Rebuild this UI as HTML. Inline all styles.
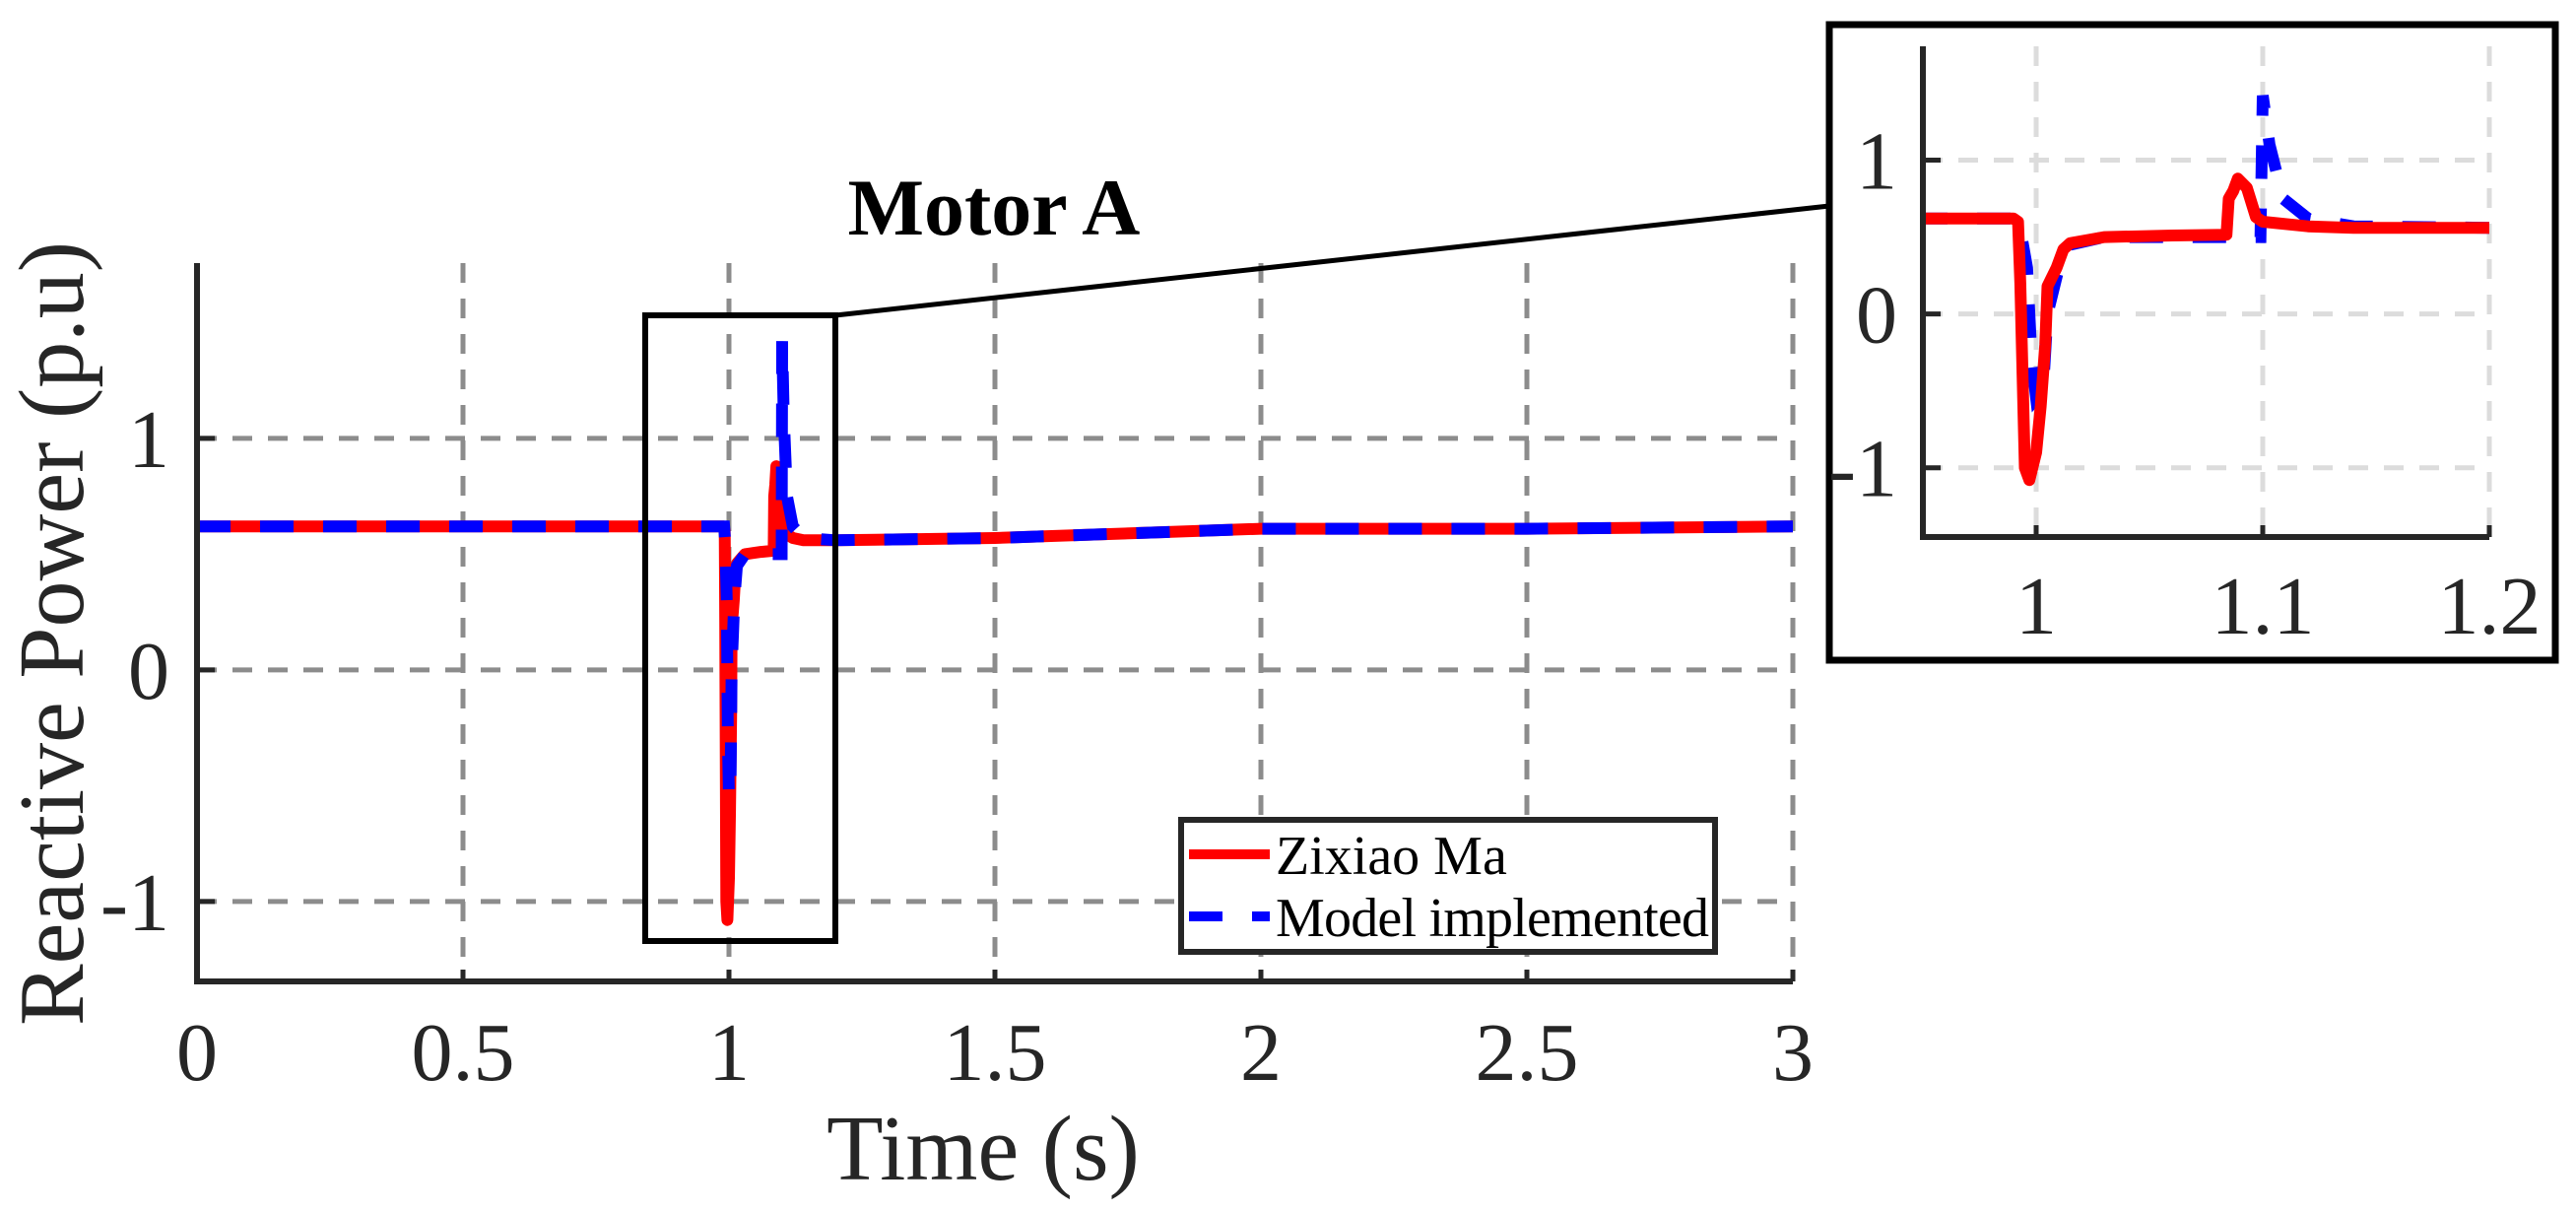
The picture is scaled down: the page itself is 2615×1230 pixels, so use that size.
<!DOCTYPE html>
<html><head><meta charset="utf-8"><style>
html,body{margin:0;padding:0;background:#fff}
svg{display:block}
text{font-family:"Liberation Serif",serif;fill:#262626}
</style></head><body>
<svg id="chart" width="2615" height="1230" viewBox="0 0 2615 1230" xmlns="http://www.w3.org/2000/svg">
<rect x="0" y="0" width="2615" height="1230" fill="#fff"/>
<g id="main"></g>
<g id="inset"></g>
</svg>
<script>
const timeS = [0,0.5,0.98,0.99,0.992,0.993,0.995,0.997,1.0,1.002,1.004,1.005,1.009,1.012,1.015,1.03,1.06,1.084,1.085,1.087,1.089,1.093,1.097,1.1,1.12,1.14,1.2,1.5,2.0,2.5,3.0];
const redQ  = [0.62,0.62,0.62,0.62,0.6,0.2,-1.0,-1.08,-0.9,-0.6,-0.2,0.18,0.3,0.42,0.46,0.5,0.51,0.515,0.75,0.8,0.88,0.82,0.63,0.6,0.57,0.56,0.56,0.57,0.61,0.61,0.62];
const blueT = [0,0.5,0.98,0.991,0.993,0.996,0.998,1.0,1.003,1.005,1.01,1.015,1.03,1.06,1.099,1.1,1.103,1.109,1.12,1.14,1.2,1.5,2.0,2.5,3.0];
const blueQ = [0.62,0.62,0.62,0.62,0.55,0.3,-0.3,-0.55,-0.5,0.0,0.3,0.45,0.5,0.5,0.5,1.42,1.1,0.75,0.62,0.57,0.56,0.57,0.61,0.61,0.62];
const xTicks = [0,0.5,1,1.5,2,2.5,3];
const xTickLabels = ["0","0.5","1","1.5","2","2.5","3"];
const yTicks = [-1,0,1];
const yTickLabels = ["-1","0","1"];
const insetXTicks = [1,1.1,1.2];
const insetXTickLabels = ["1","1.1","1.2"];

const NS="http://www.w3.org/2000/svg";
function mk(parent,tag,attrs,txt){const e=document.createElementNS(NS,tag);for(const k in attrs)e.setAttribute(k,attrs[k]);if(txt!==undefined)e.textContent=txt;parent.appendChild(e);return e;}

function drawAxes(g,cfg){
  const sx=v=>cfg.x0+(v-cfg.xmin)/(cfg.xmax-cfg.xmin)*(cfg.x1-cfg.x0);
  const sy=v=>cfg.y1-(v-cfg.ymin)/(cfg.ymax-cfg.ymin)*(cfg.y1-cfg.y0);
  cfg.xt.forEach((v,i)=>{
    const l=mk(g,'line',{x1:sx(v),x2:sx(v),y1:cfg.y0,y2:cfg.y1,stroke:cfg.grid,'stroke-width':5,'stroke-dasharray':'20,16'});
    
    
    const t=mk(g,'text',{x:sx(v),y:cfg.xlabY,'font-size':cfg.fs,'text-anchor':'middle'},cfg.xl[i]);
    
    
    mk(g,'line',{x1:sx(v),x2:sx(v),y1:cfg.y1,y2:cfg.y1-12,stroke:'#262626','stroke-width':5});
  });
  yTicks.forEach((v,i)=>{
    const l=mk(g,'line',{x1:cfg.x0,x2:cfg.x1,y1:sy(v),y2:sy(v),stroke:cfg.grid,'stroke-width':5,'stroke-dasharray':'20,16'});
    
    
    const t=mk(g,'text',{x:cfg.ylabX,y:sy(v)+29,'font-size':cfg.fs,'text-anchor':'end'},yTickLabels[i]);
    
    
    mk(g,'line',{x1:cfg.x0,x2:cfg.x0+18,y1:sy(v),y2:sy(v),stroke:'#262626','stroke-width':5});
  });
  const clip='clip'+cfg.id;
  const cp=mk(g,'clipPath',{id:clip});
  mk(cp,'rect',{x:cfg.x0,y:cfg.y0,width:cfg.x1-cfg.x0,height:cfg.y1-cfg.y0});
  const path=(xs,ys)=>xs.map((x,i)=>(i?'L':'M')+sx(x).toFixed(1)+','+sy(ys[i]).toFixed(1)).join('');
  const red=mk(g,'path',{d:path(timeS,redQ),fill:'none',stroke:'#ff0000','stroke-width':12,'stroke-linejoin':'round','clip-path':'url(#'+clip+')'});
  
  
  const blue=mk(g,'path',{d:path(blueT,blueQ),fill:'none',stroke:'#0000ff','stroke-width':12,'stroke-dasharray':'34,30','clip-path':'url(#'+clip+')'});
  
  
  if(cfg.redTop) g.appendChild(red);
  mk(g,'path',{d:`M${cfg.x0},${cfg.y0}V${cfg.y1}H${cfg.x1}`,fill:'none',stroke:'#262626','stroke-width':6});
}

const main=document.getElementById('main');
drawAxes(main,{id:'m',x0:200,x1:1820,xmin:0,xmax:3,y0:267,y1:996,ymin:-1.345,ymax:1.757,xt:xTicks,xl:xTickLabels,grid:'#8c8c8c',fs:84,xlabY:1096,ylabX:172});
let t;
t=mk(main,'text',{x:1009,y:238,'font-size':82,'font-weight':'bold','text-anchor':'middle',style:'fill:#000'},'Motor A');


t=mk(main,'text',{x:998,y:1197,'font-size':94,'text-anchor':'middle'},'Time (s)');


t=mk(main,'text',{x:0,y:0,'font-size':94,'text-anchor':'middle',transform:'translate(84,643) rotate(-90)'},'Reactive Power (p.u)');


t=mk(main,'rect',{x:655,y:320,width:193,height:635,fill:'none',stroke:'#000','stroke-width':6});


t=mk(main,'line',{x1:848,y1:320,x2:1857,y2:209,stroke:'#000','stroke-width':5});


const lg=mk(main,'g',{});


mk(lg,'rect',{x:1199,y:832,width:542,height:134,fill:'#fff',stroke:'#262626','stroke-width':6});
t=mk(lg,'line',{x1:1207,x2:1289,y1:867,y2:867,stroke:'#ff0000','stroke-width':10});


t=mk(lg,'text',{x:1295,y:887,'font-size':56,style:'fill:#000'},'Zixiao Ma');


t=mk(lg,'line',{x1:1207,x2:1289,y1:930,y2:930,stroke:'#0000ff','stroke-width':10,'stroke-dasharray':'34,30'});


t=mk(lg,'text',{x:1295,y:950,'font-size':56,textLength:440,style:'fill:#000'},'Model implemented');



const inset=document.getElementById('inset');
t=mk(inset,'rect',{x:1857,y:25,width:737,height:645,fill:'#fff',stroke:'#000','stroke-width':7});


drawAxes(inset,{id:'i',x0:1952,x1:2527,xmin:0.95,xmax:1.2,y0:47,y1:545,ymin:-1.45,ymax:1.74,xt:insetXTicks,xl:insetXTickLabels,grid:'#dcdcdc',fs:84,xlabY:643,ylabX:1926,redTop:true});
</script>
</body></html>
